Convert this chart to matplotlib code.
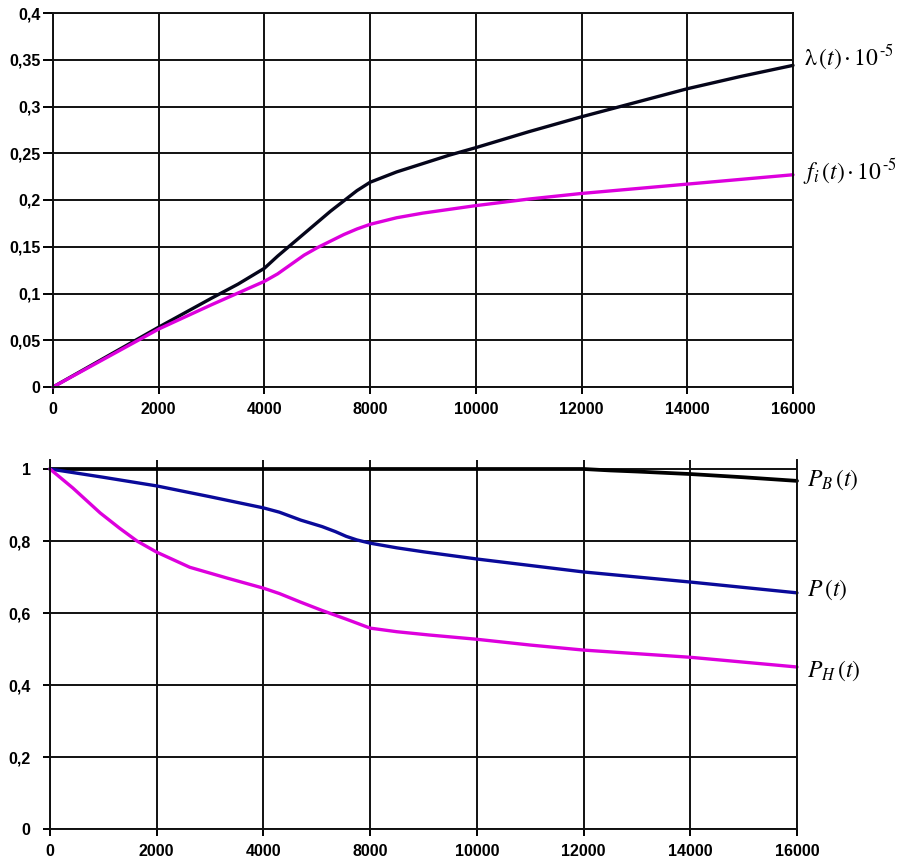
import numpy as np
import matplotlib
matplotlib.use("Agg")
import matplotlib.pyplot as plt

plt.rcParams['mathtext.fontset'] = 'stix'

# x axis categories as labelled in the original (6000 is not shown)
x_ticks = [0, 2000, 4000, 8000, 10000, 12000, 14000, 16000]

# top panel: lambda(t)*1e-5 and f_i(t)*1e-5
t_lam = [0, 1000, 2000, 3000, 3500, 4000, 4500, 5000, 5500, 6000, 6500, 7000, 7500, 8000,
         8500, 9000, 9500, 10000, 11000, 12000, 13000, 14000, 15000, 16000]
lam = [0, 0.032, 0.064, 0.095, 0.110, 0.127, 0.140, 0.152, 0.164, 0.176, 0.188, 0.199, 0.210, 0.219,
       0.230, 0.239, 0.248, 0.256, 0.273, 0.289, 0.304, 0.319, 0.332, 0.344]
t_f = [0, 1000, 2000, 3000, 4000, 4500, 5000, 5500, 6000, 6500, 7000, 7500, 8000,
       8500, 9000, 9500, 10000, 11000, 12000, 14000, 16000]
f_i = [0, 0.031, 0.062, 0.088, 0.113, 0.121, 0.131, 0.141, 0.149, 0.156, 0.163, 0.169, 0.174,
       0.181, 0.186, 0.190, 0.194, 0.201, 0.207, 0.217, 0.227]
top_yticks = [0, 0.05, 0.1, 0.15, 0.2, 0.25, 0.3, 0.35, 0.4]
top_ylabels = ['0', '0,05', '0,1', '0,15', '0,2', '0,25', '0,3', '0,35', '0,4']

# bottom panel: P_B(t), P(t), P_H(t)
t_pb = [0, 12000, 12500, 13000, 14000, 15000, 16000]
p_b = [1.0, 1.0, 0.996, 0.993, 0.986, 0.977, 0.967]
t_p = [0, 1000, 2000, 3000, 4000, 4600, 5000, 5400, 6200, 6700, 7100, 7500, 8000,
       8500, 9000, 10000, 11000, 12000, 13000, 14000, 15000, 16000]
p = [1.0, 0.977, 0.953, 0.923, 0.892, 0.880, 0.869, 0.858, 0.840, 0.826, 0.813, 0.803, 0.794,
     0.781, 0.770, 0.750, 0.732, 0.714, 0.700, 0.686, 0.671, 0.656]
t_ph = [0, 430, 940, 1300, 1630, 2000, 2620, 3320, 4000, 4600, 5400, 6200, 7100, 8000,
        8500, 9100, 10000, 11000, 12000, 14000, 16000]
p_h = [1.0, 0.947, 0.878, 0.836, 0.800, 0.769, 0.727, 0.697, 0.669, 0.654, 0.630, 0.607, 0.583, 0.558,
       0.548, 0.539, 0.527, 0.511, 0.497, 0.477, 0.450]
bot_yticks = [0, 0.2, 0.4, 0.6, 0.8, 1.0]
bot_ylabels = ['0', '0,2', '0,4', '0,6', '0,8', '1']

idx = np.arange(len(x_ticks))


def fwd(t):
    return np.interp(t, x_ticks, idx)


def inv(u):
    return np.interp(u, idx, x_ticks)


tick_font = dict(family='Liberation Sans', weight='bold', size=11.5)
c_black = '#05051a'
c_mag = '#dd00dd'
c_blue = '#0a0a9a'

fig = plt.figure(figsize=(9.18, 8.64), dpi=100)
ax1 = fig.add_axes([53 / 918, 1 - 387 / 864, 740 / 918, 374 / 864])
ax2 = fig.add_axes([50 / 918, 1 - 829 / 864, 747 / 918, 369 / 864])

for ax in (ax1, ax2):
    ax.set_xscale('function', functions=(fwd, inv))
    ax.set_xlim(0, 16000)
    ax.set_xticks(x_ticks)
    ax.set_xticklabels([str(v) for v in x_ticks], fontdict=tick_font)
    ax.grid(True, color='#111111', linewidth=1.4)
    ax.set_axisbelow(True)
    for s in ax.spines.values():
        s.set_linewidth(1.4)
        s.set_color('#111111')
    ax.tick_params(axis='x', direction='out', length=5, width=1.4, pad=6)

ax1.set_ylim(0, 0.4)
ax1.set_yticks(top_yticks)
ax1.set_yticklabels(top_ylabels, fontdict=tick_font)
ax1.tick_params(axis='y', direction='out', length=7, width=1.4, pad=2)

line = dict(lw=2.4, clip_on=False, solid_joinstyle='round', solid_capstyle='round')
ax1.plot(t_lam, lam, color=c_black, **line)
ax1.plot(t_f, f_i, color=c_mag, **line)

ax2.set_ylim(0, 1.025)
ax2.set_yticks(bot_yticks)
ax2.set_yticklabels(bot_ylabels, fontdict=tick_font)
ax2.tick_params(axis='y', direction='out', length=5, width=1.4, pad=9)
ax2.spines['top'].set_visible(False)

ax2.plot(t_pb, p_b, color='#000000', **{**line, 'lw': 2.7})
ax2.plot(t_p, p, color=c_blue, **line)
ax2.plot(t_ph, p_h, color=c_mag, **line)

lab = dict(fontsize=17, va='center', ha='left', textcoords='offset points', annotation_clip=False)
ax1.annotate(r'$\mathrm{\lambda}\,(t)\,{\cdot}\,10^{\,\text{-}5}$', xy=(t_lam[-1], lam[-1]), xytext=(8, 6), **lab)
ax1.annotate(r'$f_i\,(t)\,{\cdot}\,10^{\,\text{-}5}$', xy=(t_f[-1], f_i[-1]), xytext=(7, 2), **lab)
ax2.annotate(r'$P_B\,(t)$', xy=(t_pb[-1], p_b[-1]), xytext=(7, 1), **lab)
ax2.annotate(r'$P\,(t)$', xy=(t_p[-1], p[-1]), xytext=(7, 2), **lab)
ax2.annotate(r'$P_H\,(t)$', xy=(t_ph[-1], p_h[-1]), xytext=(7, -3), **lab)

fig.savefig('out.png', dpi=100)
